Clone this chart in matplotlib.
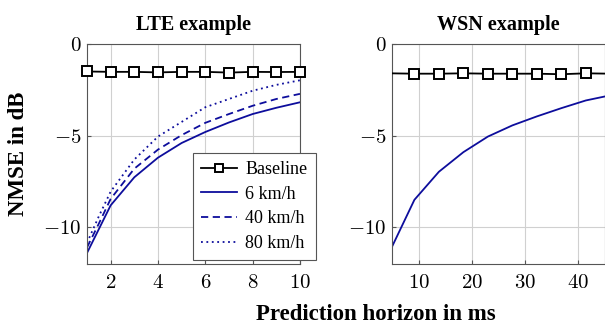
import numpy as np
import matplotlib.pyplot as plt
from matplotlib.ticker import FuncFormatter

plt.rcParams['font.family'] = ['Liberation Serif', 'DejaVu Serif']
plt.rcParams['mathtext.fontset'] = 'cm'

# LTE example (horizon in ms)
lte_x = [1, 1.5, 2, 3, 4, 5, 6, 7, 8, 9, 10]
lte_base_x = [1, 2, 3, 4, 5, 6, 7, 8, 9, 10]
lte_base = [-1.5, -1.52, -1.52, -1.55, -1.52, -1.52, -1.56, -1.52, -1.53, -1.52]
lte_6 = [-11.4, -10.1, -8.8, -7.27, -6.2, -5.4, -4.8, -4.28, -3.82, -3.48, -3.18]
lte_40 = [-11.1, -9.8, -8.45, -6.8, -5.76, -4.97, -4.3, -3.82, -3.37, -3.0, -2.72]
lte_80 = [-10.85, -9.4, -8.05, -6.3, -5.05, -4.25, -3.45, -3.0, -2.55, -2.23, -1.98]

# WSN example
wsn_x = [4.6, 9.2, 13.8, 18.4, 23.0, 27.6, 32.2, 36.8, 41.4, 46.0]
wsn_base = [-1.6, -1.62, -1.62, -1.6, -1.62, -1.62, -1.62, -1.65, -1.6, -1.62]
wsn_curve = [-11.3, -8.5, -6.97, -5.9, -5.05, -4.44, -3.95, -3.5, -3.08, -2.8]

blue = '#0d0d9c'
tex = FuncFormatter(lambda v, p: r'$%g$' % v)

fig = plt.figure(figsize=(6.05, 3.29), dpi=100)
ax1 = fig.add_axes([0.1438, 0.1976, 0.352, 0.6687])
ax2 = fig.add_axes([0.648, 0.1976, 0.352, 0.6687])

for ax in (ax1, ax2):
    ax.grid(color='#d0d0d0', linewidth=0.8)
    ax.set_axisbelow(True)
    ax.set_ylim(-12, 0)
    ax.set_yticks([0, -5, -10])
    ax.xaxis.set_major_formatter(tex)
    ax.yaxis.set_major_formatter(tex)
    ax.tick_params(direction='in', length=3, labelsize=15, color='#555555', pad=4)
    ax.tick_params(axis='x', pad=7)
    for s in ax.spines.values():
        s.set_color('#555555')
        s.set_linewidth(0.8)

ax1.plot(lte_base_x, lte_base, color='k', lw=1.3, marker='s', ms=7,
         mfc='white', mew=1.4, label='Baseline', zorder=5, clip_on=False)
ax1.plot(lte_x, lte_6, color=blue, lw=1.3, label='6 km/h')
ax1.plot(lte_x, lte_40, color=blue, lw=1.3, ls=(0, (4, 2.5)), label='40 km/h')
ax1.plot(lte_x, lte_80, color=blue, lw=1.3, ls=(0, (1, 2)), label='80 km/h')
ax1.set_xlim(1, 10)
ax1.set_xticks([2, 4, 6, 8, 10])
ax1.set_title('LTE example', fontsize=14.5, fontweight='bold', pad=10)
ax1.set_ylabel('NMSE in dB', fontsize=16.5, fontweight='bold', labelpad=10)

leg = ax1.legend(loc='upper left', bbox_to_anchor=(0.4977, 0.5045), fontsize=13,
                 fancybox=False, edgecolor='#555555', framealpha=1,
                 handlelength=2.0, handletextpad=0.45, borderpad=0.45,
                 labelspacing=0.42, borderaxespad=0, markerscale=0.85)
leg.get_frame().set_linewidth(0.8)
leg.set_zorder(10)

ax2.plot(wsn_x, wsn_base, color='k', lw=1.3, marker='s', ms=7,
         mfc='white', mew=1.4, markevery=slice(1, 9), zorder=5)
ax2.plot(wsn_x, wsn_curve, color=blue, lw=1.3)
ax2.set_xlim(5, 45)
ax2.set_xticks([10, 20, 30, 40])
ax2.set_title('WSN example', fontsize=14.5, fontweight='bold', pad=10)

fig.text(0.621, 0.012, 'Prediction horizon in ms', ha='center', va='bottom',
         fontsize=16.5, fontweight='bold')

fig.savefig('out.png', dpi=100)
